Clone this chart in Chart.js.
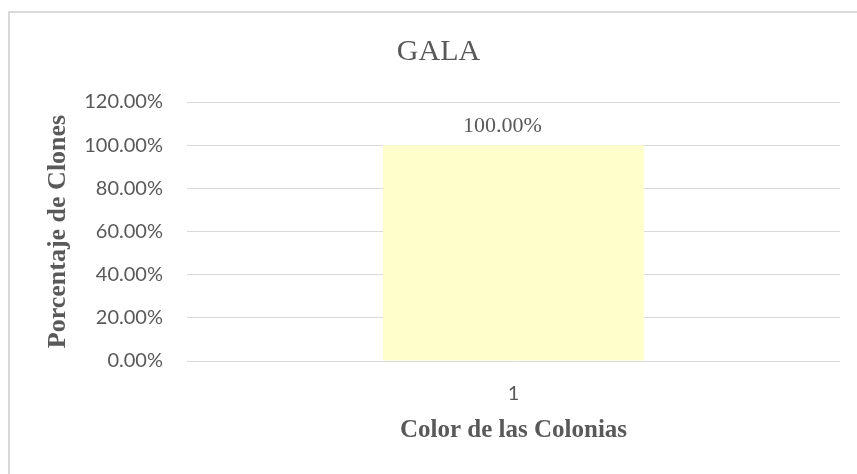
<!DOCTYPE html>
<html lang="es">
<head>
  <meta charset="UTF-8">
  <title>GALA</title>
  <script src="https://cdn.jsdelivr.net/npm/chart.js"></script>
  <style>
    html, body { margin: 0; padding: 0; background: #fff; }
    .frame {
      position: absolute;
      left: 8px;
      top: 11px;
      width: 900px;
      height: 500px;
      border-top: 2px solid #d9d9d9;
      border-left: 2px solid #d9d9d9;
    }
    .wrap {
      position: absolute;
      left: 0;
      top: 0;
      width: 857px;
      height: 474px;
    }
  </style>
</head>
<body>
  <div class="frame"></div>
  <div class="wrap">
    <canvas id="galaChart"></canvas>
  </div>

  <script>
    // datos del gráfico
    const categorias = ['1'];
    const porcentajes = [1.0];
    const ticksY = [0, 0.2, 0.4, 0.6, 0.8, 1.0, 1.2];

    const gris = '#595959';
    const serif = '"Liberation Serif", "Times New Roman", serif';
    const sans = 'Lato, "Open Sans", sans-serif';

    // etiqueta de valor encima de cada barra
    const etiquetas = {
      id: 'etiquetas',
      afterDatasetsDraw(chart) {
        const ctx = chart.ctx;
        const meta = chart.getDatasetMeta(0);
        ctx.save();
        ctx.font = '22px ' + serif;
        ctx.fillStyle = gris;
        ctx.textAlign = 'center';
        ctx.textBaseline = 'alphabetic';
        meta.data.forEach((bar, i) => {
          const v = chart.data.datasets[0].data[i];
          ctx.fillText((v * 100).toFixed(2) + '%', bar.x - 11, bar.y - 13);
        });
        ctx.restore();
      }
    };

    new Chart(document.getElementById('galaChart'), {
      type: 'bar',
      data: {
        labels: categorias,
        datasets: [{
          data: porcentajes,
          backgroundColor: '#ffffcc',
          borderWidth: 0,
          categoryPercentage: 1,
          barPercentage: 0.4
        }]
      },
      plugins: [etiquetas],
      options: {
        responsive: true,
        maintainAspectRatio: false,
        animation: false,
        layout: { padding: { left: 37, right: 17, top: 0, bottom: 0 } },
        plugins: {
          legend: { display: false },
          tooltip: { enabled: false },
          title: {
            display: true,
            text: 'GALA',
            color: gris,
            font: { family: serif, size: 30, weight: 'normal' },
            padding: { top: 34, bottom: 32 }
          }
        },
        scales: {
          x: {
            grid: { display: false },
            border: { display: false },
            ticks: {
              color: gris,
              font: { family: sans, size: 20 },
              padding: 13
            },
            title: {
              display: true,
              text: 'Color de las Colonias',
              color: gris,
              font: { family: serif, size: 25, weight: 'bold' },
              padding: { top: 0, bottom: 28 }
            },
            afterFit(scale) { scale.height = 113; }
          },
          y: {
            min: 0,
            max: 1.2,
            afterBuildTicks(scale) {
              scale.ticks = ticksY.map(v => ({ value: v }));
            },
            grid: { color: '#d9d9d9', drawTicks: false },
            border: { display: false },
            ticks: {
              color: gris,
              font: { family: sans, size: 20 },
              padding: 24,
              callback: v => (v * 100).toFixed(2) + '%'
            },
            title: {
              display: true,
              text: 'Porcentaje de Clones',
              color: gris,
              font: { family: serif, size: 26, weight: 'bold' },
              padding: { top: 6, bottom: 0 }
            },
            afterFit(scale) { scale.width = 150; }
          }
        }
      }
    });
  </script>
</body>
</html>
